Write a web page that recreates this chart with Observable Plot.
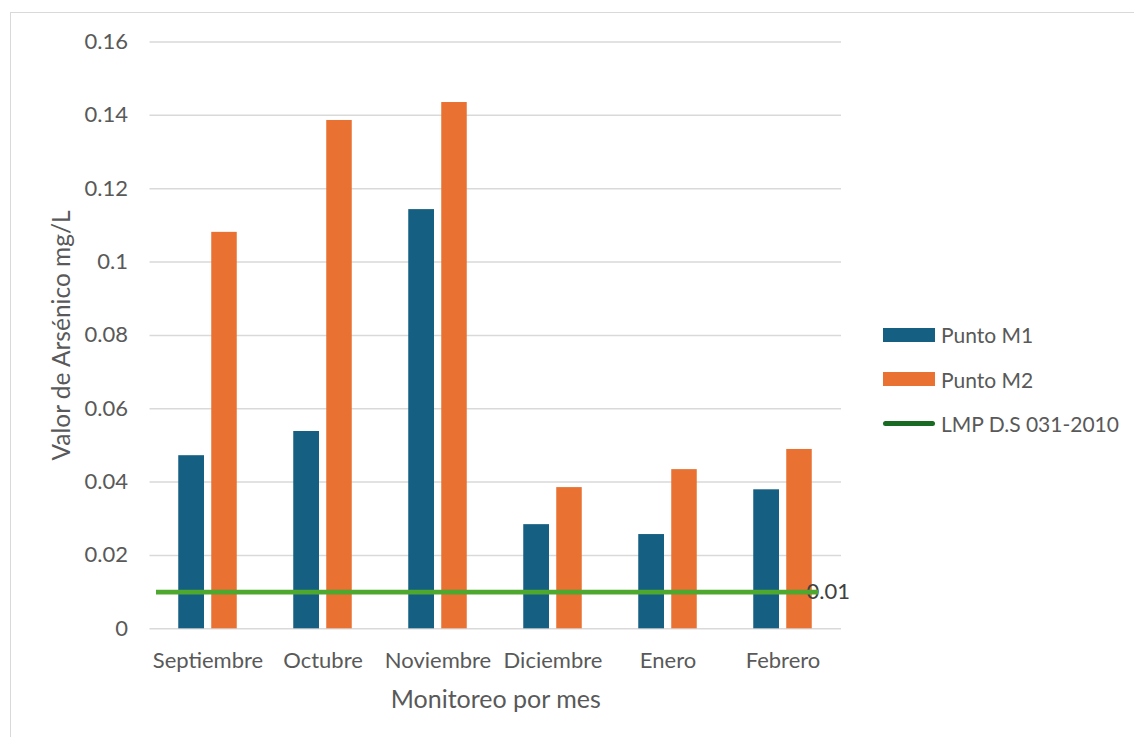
<!DOCTYPE html>
<html lang="es">
<head>
<meta charset="utf-8">
<title>Valor de Arsénico por mes</title>
<script src="https://cdn.jsdelivr.net/npm/d3@7"></script>
<script src="https://cdn.jsdelivr.net/npm/@observablehq/plot@0.6"></script>
<style>
  html, body { margin: 0; padding: 0; background: #fff; overflow: hidden; }
  #wrap { position: relative; width: 1134px; height: 737px; overflow: hidden; font-family: Lato, "Open Sans", sans-serif; }
  #frame { position: absolute; left: 10px; top: 12px; width: 1300px; height: 900px; border: 1px solid #d9d9d9; box-sizing: border-box; }
  #chart { position: absolute; left: 0; top: 0; }
  #legend { position: absolute; left: 883px; top: 312.5px; color: #595959; font-size: 21px; }
  .item { display: flex; align-items: center; height: 44.5px; }
  .sw { width: 52px; height: 14px; margin-right: 6px; }
  .ln { width: 52px; height: 5px; border-radius: 3px; margin-right: 6px; }
</style>
</head>
<body>
<div id="wrap">
  <div id="frame"></div>
  <div id="chart"></div>
  <div id="legend"></div>
</div>
<script>
// Monthly arsenic readings (mg/L) at two monitoring points
const months = ["Septiembre", "Octubre", "Noviembre", "Diciembre", "Enero", "Febrero"];
const puntoM1 = [0.0472, 0.0538, 0.1143, 0.0284, 0.0257, 0.0379];
const puntoM2 = [0.1081, 0.1386, 0.1435, 0.0385, 0.0434, 0.0489];
// Maximum permissible limit, D.S 031-2010
const lmpValue = 0.01;
const yTicks = [0, 0.02, 0.04, 0.06, 0.08, 0.1, 0.12, 0.14, 0.16];

const seriesNames = ["Punto M1", "Punto M2", "LMP D.S 031-2010"];
const colors = { m1: "#156082", m2: "#e97132", lmp: "#4ea72e", lmpKey: "#196b24" };

const rowsM1 = months.map((month, i) => ({ month, value: puntoM1[i] }));
const rowsM2 = months.map((month, i) => ({ month, value: puntoM2[i] }));
const lmpLabel = [{ month: months[months.length - 1], value: lmpValue }];

const chart = Plot.plot({
  width: 1134,
  height: 737,
  marginLeft: 149.5,
  marginRight: 293,
  marginTop: 41.5,
  marginBottom: 108.7,
  style: { fontFamily: "Lato, 'Open Sans', sans-serif", fontSize: "22px", color: "#595959", background: "transparent" },
  x: { domain: months, padding: 0, tickSize: 0, tickPadding: 24, label: null },
  y: { domain: [0, 0.16], ticks: yTicks, tickFormat: d => String(d), tickSize: 0, tickPadding: 22, label: null },
  marks: [
    Plot.gridY(yTicks, { stroke: "#d9d9d9", strokeOpacity: 1, strokeWidth: 1.5 }),
    Plot.barY(rowsM1, { x: "month", y: "value", fill: colors.m1, insetLeft: 28.25, insetRight: 61 }),
    Plot.barY(rowsM2, { x: "month", y: "value", fill: colors.m2, insetLeft: 61.25, insetRight: 28.25 }),
    Plot.text(lmpLabel, { x: "month", y: "value", text: d => String(d.value), textAnchor: "start", dx: 23.5, fill: "#404040", fontSize: 22 }),
    Plot.ruleY([lmpValue], { stroke: colors.lmp, strokeWidth: 4.8, insetLeft: 6.5, insetRight: 23 }),
    Plot.text(["Valor de Arsénico mg/L"], { frameAnchor: "left", textAnchor: "middle", lineAnchor: "middle", rotate: -90, dx: -87.5, fontSize: 24.5, fill: "#595959" }),
    Plot.text(["Monitoreo por mes"], { frameAnchor: "bottom", textAnchor: "middle", lineAnchor: "middle", dy: 71, fontSize: 25, fill: "#595959" })
  ]
});
document.getElementById("chart").append(chart);

// Legend to the right of the plot
const legend = document.getElementById("legend");
const keyStyles = [
  { cls: "sw", color: colors.m1 },
  { cls: "sw", color: colors.m2 },
  { cls: "ln", color: colors.lmpKey }
];
seriesNames.forEach((name, i) => {
  const item = document.createElement("div");
  item.className = "item";
  const key = document.createElement("span");
  key.className = keyStyles[i].cls;
  key.style.background = keyStyles[i].color;
  const label = document.createElement("span");
  label.textContent = name;
  item.append(key, label);
  legend.append(item);
});
</script>
</body>
</html>
